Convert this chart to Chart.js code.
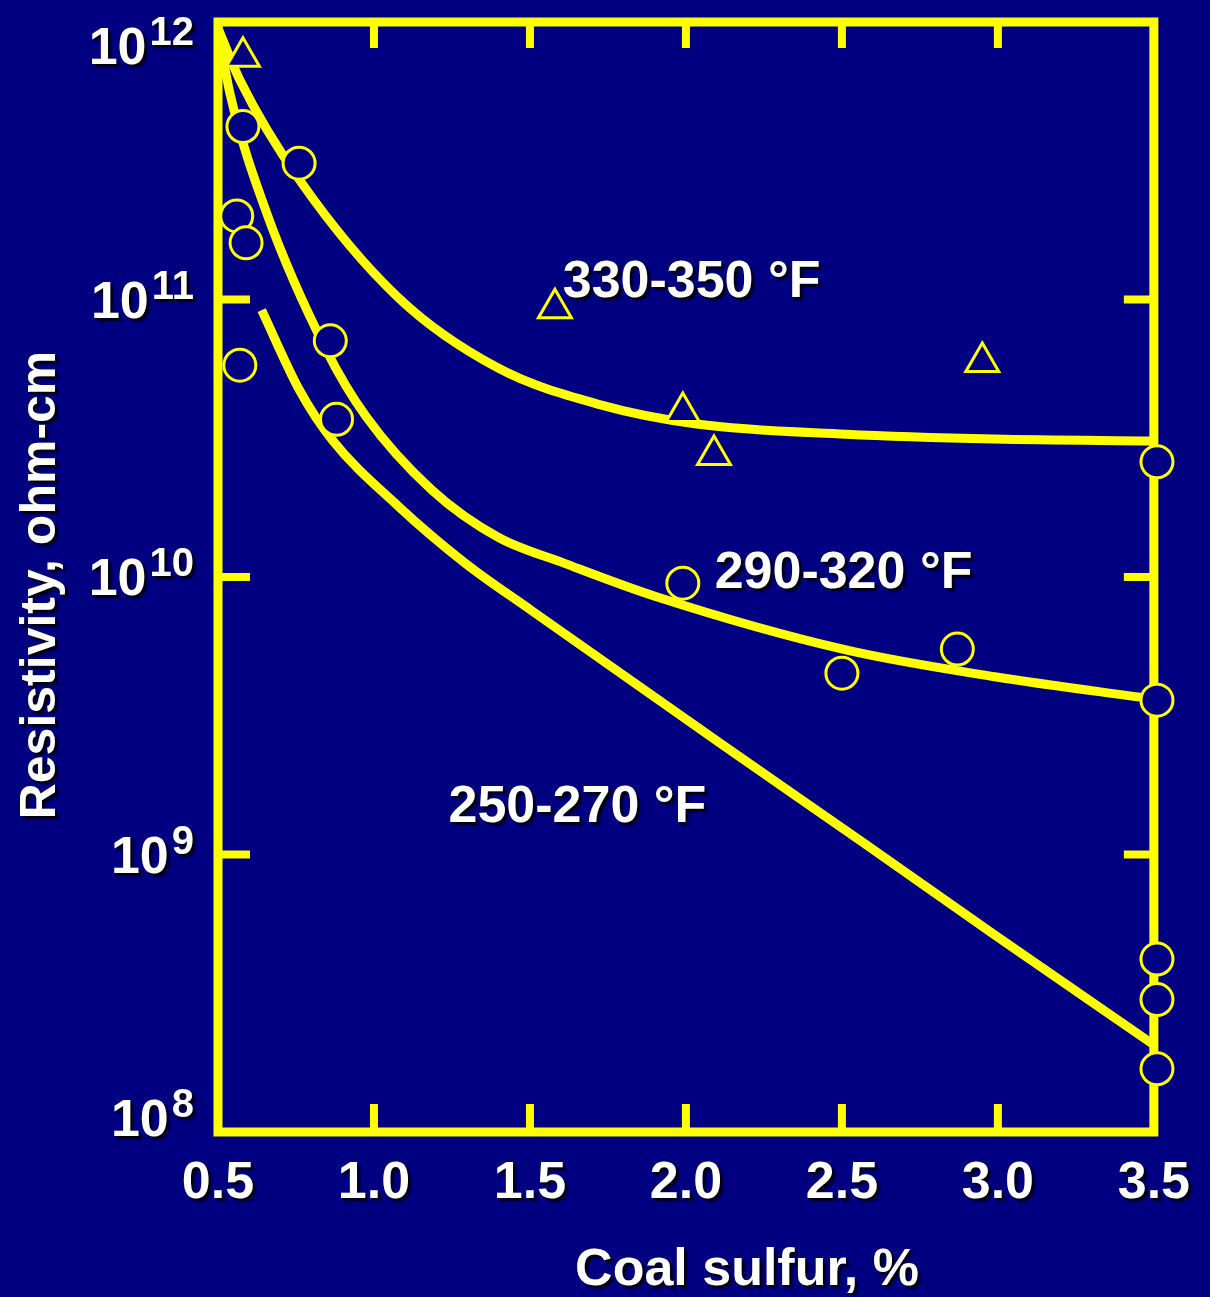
<!DOCTYPE html>
<html>
<head>
<meta charset="utf-8">
<title>Resistivity vs coal sulfur</title>
<script src="https://cdn.jsdelivr.net/npm/chart.js@4.4.1/dist/chart.umd.min.js"></script>
<style>
  html, body { margin: 0; padding: 0; background: #000080; }
  canvas { display: block; }
</style>
</head>
<body>
<canvas id="chart" width="1210" height="1297"></canvas>
<script>
const sulfurTicks = [0.5, 1.0, 1.5, 2.0, 2.5, 3.0, 3.5];
const resistivityTicks = [1e8, 1e9, 1e10, 1e11, 1e12];

// fitted curves, one per flue gas temperature band
const hotX = [0.5, 0.57, 0.761, 1.08, 1.398, 1.717, 2.035, 2.513, 2.99, 3.5];
const hotY = [9.5e11, 6.18e11, 2.7e11, 1.01e11, 5.66e10, 4.2e10, 3.56e10, 3.27e10, 3.14e10, 3.09e10];

const warmX = [0.5, 0.538, 0.656, 0.847, 0.975, 1.185, 1.398, 1.611, 1.908, 2.513, 2.99, 3.5];
const warmY = [9.4e11, 5.55e11, 2.05e11, 6.58e10, 3.78e10, 2.06e10, 1.39e10, 1.12e10, 8.47e9, 5.46e9, 4.37e9, 3.63e9];

const coolX = [0.64, 0.761, 0.866, 1.08, 1.293, 1.503, 2.118, 2.57, 2.99, 3.5];
const coolY = [9.16e10, 4.72e10, 3.12e10, 1.79e10, 1.12e10, 7.6e9, 2.48e9, 1.1e9, 5.13e8, 2.06e8];

// measured points
const triangleX = [0.58, 1.58, 1.99, 2.09, 2.95];
const triangleY = [7.5e11, 9.3e10, 3.93e10, 2.75e10, 5.95e10];

const circleX = [0.58, 0.76, 0.56, 0.59, 0.86, 0.57, 0.88, 1.99, 2.50, 2.87, 3.51, 3.51, 3.51, 3.51, 3.51];
const circleY = [4.2e11, 3.1e11, 2.0e11, 1.6e11, 7.1e10, 5.8e10, 3.7e10, 9.5e9, 4.5e9, 5.5e9, 2.6e10, 3.6e9, 4.2e8, 3.0e8, 1.69e8];

const bandNames = ['330-350 °F', '290-320 °F', '250-270 °F'];
const bandLabelX = [1.605, 2.092, 1.239];
const bandLabelY = [1.15e11, 1.03e10, 1.47e9];

const YELLOW = '#ffff00';
const NAVY = '#000080';
const FONT = '"Liberation Sans", Arial, sans-serif';

const zip = (xs, ys) => xs.map((x, i) => ({ x: x, y: ys[i] }));

function setShadow(ctx) {
    ctx.shadowColor = 'rgba(0, 0, 0, 0.85)';
    ctx.shadowOffsetX = 3;
    ctx.shadowOffsetY = 3;
    ctx.shadowBlur = 2;
}

const slideDecor = {
    id: 'slideDecor',
    beforeDraw(chart) {
        // shadow for the x tick labels drawn by the scale
        chart.ctx.save();
        setShadow(chart.ctx);
    },
    beforeDatasetsDraw(chart) {
        const { ctx, chartArea: a, scales: { x, y } } = chart;
        ctx.restore();
        ctx.save();
        ctx.strokeStyle = YELLOW;
        ctx.lineWidth = 9;
        ctx.strokeRect(a.left, a.top, a.right - a.left, a.bottom - a.top);

        // inward tick marks on all four sides
        ctx.lineWidth = 8;
        ctx.beginPath();
        sulfurTicks.slice(1, -1).forEach(v => {
            const px = x.getPixelForValue(v);
            ctx.moveTo(px, a.bottom); ctx.lineTo(px, a.bottom - 28);
            ctx.moveTo(px, a.top); ctx.lineTo(px, a.top + 26);
        });
        resistivityTicks.slice(1, -1).forEach(v => {
            const py = y.getPixelForValue(v);
            ctx.moveTo(a.left, py); ctx.lineTo(a.left + 32, py);
            ctx.moveTo(a.right, py); ctx.lineTo(a.right - 30, py);
        });
        ctx.stroke();
        ctx.restore();
    },
    afterDraw(chart) {
        const { ctx, chartArea: a, scales: { x, y } } = chart;
        ctx.save();
        setShadow(ctx);
        ctx.fillStyle = '#ffffff';

        // y tick labels as 10 with superscript exponent
        ctx.textBaseline = 'alphabetic';
        ctx.textAlign = 'right';
        resistivityTicks.forEach(v => {
            const exp = String(Math.round(Math.log10(v)));
            const py = Math.min(Math.max(y.getPixelForValue(v), a.top + 24), a.bottom - 14);
            ctx.font = 'bold 40px ' + FONT;
            const ew = ctx.measureText(exp).width;
            ctx.fillText(exp, 194, py - 1);
            ctx.font = 'bold 52px ' + FONT;
            ctx.fillText('10', 194 - ew - 3, py + 18);
        });

        // band labels
        ctx.font = 'bold 52px ' + FONT;
        ctx.textAlign = 'left';
        ctx.textBaseline = 'middle';
        bandNames.forEach((name, i) => {
            ctx.fillText(name, x.getPixelForValue(bandLabelX[i]), y.getPixelForValue(bandLabelY[i]));
        });

        // axis titles
        ctx.textAlign = 'center';
        ctx.textBaseline = 'alphabetic';
        ctx.fillText('Coal sulfur, %', 747, 1285);

        ctx.save();
        ctx.translate(55, 585);
        ctx.rotate(-Math.PI / 2);
        ctx.font = 'bold 50px ' + FONT;
        ctx.fillText('Resistivity, ohm-cm', 0, 0);
        ctx.restore();

        ctx.restore();
    }
};

const curveStyle = {
    showLine: true,
    pointRadius: 0,
    borderWidth: 9,
    borderColor: YELLOW,
    backgroundColor: YELLOW,
    cubicInterpolationMode: 'monotone',
    fill: false
};

new Chart(document.getElementById('chart'), {
    type: 'scatter',
    data: {
        datasets: [
            {
                label: 'triangles',
                data: zip(triangleX, triangleY),
                pointStyle: 'triangle',
                pointRadius: 19,
                borderWidth: 3,
                borderColor: YELLOW,
                backgroundColor: NAVY,
                clip: false
            },
            {
                label: 'circles',
                data: zip(circleX, circleY),
                pointStyle: 'circle',
                pointRadius: 16,
                borderWidth: 3,
                borderColor: YELLOW,
                backgroundColor: NAVY,
                clip: false
            },
            { label: bandNames[0], data: zip(hotX, hotY), ...curveStyle },
            { label: bandNames[1], data: zip(warmX, warmY), ...curveStyle },
            { label: bandNames[2], data: zip(coolX, coolY), ...curveStyle }
        ]
    },
    options: {
        responsive: false,
        animation: false,
        events: [],
        layout: { padding: { left: 0, right: 50, top: 22, bottom: 0 } },
        plugins: {
            legend: { display: false },
            tooltip: { enabled: false }
        },
        scales: {
            x: {
                type: 'linear',
                min: 0.5,
                max: 3.5,
                afterBuildTicks: (s) => { s.ticks = sulfurTicks.map(v => ({ value: v })); },
                afterFit: (s) => { s.height = 165; },
                grid: { display: false, drawTicks: false },
                border: { display: false },
                ticks: {
                    color: '#ffffff',
                    padding: 20,
                    maxRotation: 0,
                    autoSkip: false,
                    font: { family: FONT, size: 52, weight: 'bold' },
                    callback: (v) => Number(v).toFixed(1)
                }
            },
            y: {
                type: 'logarithmic',
                min: 1e8,
                max: 1e12,
                afterBuildTicks: (s) => { s.ticks = resistivityTicks.map(v => ({ value: v })); },
                afterFit: (s) => { s.width = 218; },
                grid: { display: false, drawTicks: false },
                border: { display: false },
                ticks: { display: false }
            }
        }
    },
    plugins: [slideDecor]
});
</script>
</body>
</html>
